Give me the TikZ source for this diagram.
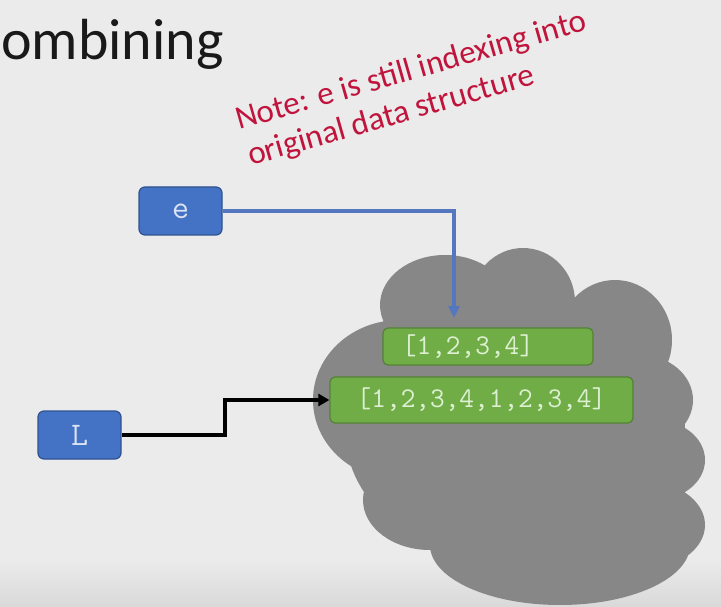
\documentclass[tikz,border=0pt]{standalone}
\usepackage{fontspec}
\setmainfont{Carlito}
\usetikzlibrary{arrows.meta}
\definecolor{bgc}{HTML}{EBEBEB}
\definecolor{bgd}{HTML}{D9D9D9}
\definecolor{cloudc}{HTML}{878787}
\definecolor{notec}{HTML}{C0143C}
\definecolor{bluef}{HTML}{4472C4}
\definecolor{blued}{HTML}{2F528F}
\definecolor{bluet}{HTML}{DAE3F3}
\definecolor{bluel}{HTML}{5577BF}
\definecolor{greenf}{HTML}{70AD47}
\definecolor{greend}{HTML}{548235}
\definecolor{greent}{HTML}{DDF0D2}
\tikzset{
  varbox/.style={draw=blued, fill=bluef, line width=1.2pt, rounded corners=6pt,
    minimum width=83pt, minimum height=48pt, inner sep=0pt, text=bluet,
    font=\ttfamily\fontsize{33}{36}\selectfont},
  listbox/.style={draw=greend, fill=greenf, line width=1.2pt, rounded corners=5pt,
    inner sep=0pt, text=greent, font=\ttfamily\fontsize{28.5}{30}\selectfont},
  notetext/.style={text=notec, rotate=16, anchor=base west, inner sep=0pt,
    font=\fontsize{33}{36}\selectfont},
  blink/.style={draw=bluel, line width=3.5pt, -{Triangle[length=12pt,width=11pt]}},
  klink/.style={draw=black, line width=4pt, -{Triangle[length=11pt,width=12pt]}},
}
\begin{document}
\begin{tikzpicture}[x=1pt,y=-1pt]
\fill[bgc] (0,0) rectangle (721,607);
\shade[top color=bgc, bottom color=bgd] (0,560) rectangle (721,607);
\useasboundingbox (0,0) rectangle (721,607);
% title
\node[anchor=base west, inner sep=0pt, font=\fontsize{58}{60}\selectfont, text=black!90] (title) at (1,60) {ombining};
% note
\node[notetext] (note1) at (239,130) {Note: e is still indexing into};
\node[notetext] (note2) at (251,166) {original data structure};
% cloud
\fill[cloudc]
  (523,302) ellipse [x radius=52, y radius=54]
  (445,305) ellipse [x radius=65, y radius=50]
  (615,340) ellipse [x radius=57, y radius=60]
  (400,400) ellipse [x radius=87, y radius=80]
  (640,400) ellipse [x radius=53, y radius=45]
  (655,460) ellipse [x radius=50, y radius=40]
  (640,525) ellipse [x radius=65, y radius=45]
  (560,545) ellipse [x radius=130, y radius=60]
  (430,500) ellipse [x radius=67, y radius=50]
  (515,430) ellipse [x radius=170, y radius=135];
% boxes
\node[varbox] (e) at (180.5,211) {e};
\node[varbox] (L) at (79.5,435) {L};
\node[listbox, minimum width=210pt, minimum height=37pt] (b1) at (488,346.5) {[1,2,3,4]\hspace*{40pt}};
\node[listbox, minimum width=303pt, minimum height=46pt] (b2) at (481.5,400) {[1,2,3,4,1,2,3,4]};
% connectors
\coordinate (etip) at (454,318);
\coordinate (Lbend) at (225,435);
\draw[blink] (e.east) -| (etip);
\draw[klink] (L.east) -- (Lbend) |- (b2.west);
\end{tikzpicture}
\end{document}
